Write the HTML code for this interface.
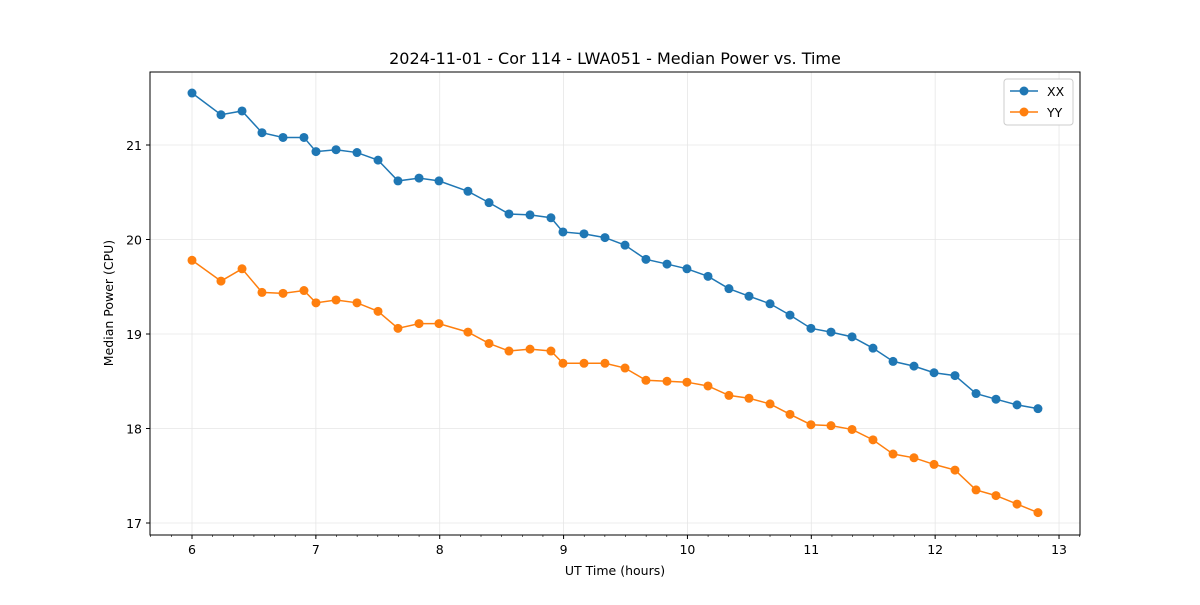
<!DOCTYPE html>
<html><head><meta charset="utf-8"><style>
body{margin:0;background:#fff;}
svg{font-family:"DejaVu Sans","Liberation Sans",sans-serif;}
</style></head><body>
<svg id="chart" width="1200" height="600" xmlns="http://www.w3.org/2000/svg"></svg>
<script>
const hours=[6.00,6.234,6.404,6.565,6.735,6.904,7.001,7.163,7.332,7.502,7.663,7.833,7.994,8.228,8.398,8.559,8.729,8.898,8.995,9.165,9.334,9.496,9.665,9.835,9.996,10.166,10.335,10.497,10.667,10.828,10.997,11.159,11.329,11.498,11.660,11.829,11.991,12.160,12.330,12.491,12.661,12.830];
const xxValues=[21.55,21.32,21.36,21.13,21.08,21.08,20.93,20.95,20.92,20.84,20.62,20.65,20.62,20.51,20.39,20.27,20.26,20.23,20.08,20.06,20.02,19.94,19.79,19.74,19.69,19.61,19.48,19.40,19.32,19.20,19.06,19.02,18.97,18.85,18.71,18.66,18.59,18.56,18.37,18.31,18.25,18.21];
const yyValues=[19.78,19.56,19.69,19.44,19.43,19.46,19.33,19.36,19.33,19.24,19.06,19.11,19.11,19.02,18.90,18.82,18.84,18.82,18.69,18.69,18.69,18.64,18.51,18.50,18.49,18.45,18.35,18.32,18.26,18.15,18.04,18.03,17.99,17.88,17.73,17.69,17.62,17.56,17.35,17.29,17.20,17.11];
const xTicks=[6,7,8,9,10,11,12,13];
const yTicks=[17,18,19,20,21];
const L=150,R=1080,T=72,B=535;
const sx=v=>192+(v-6)*123.86;
const sy=v=>145+(21-v)*94.5;
const svg=document.getElementById('chart');
const NS='http://www.w3.org/2000/svg';
function mk(tag,attrs,parent){const e=document.createElementNS(NS,tag);for(const k in attrs)e.setAttribute(k,attrs[k]);(parent||svg).appendChild(e);return e;}
function txt(s,attrs){const e=mk('text',attrs);e.textContent=s;return e;}
xTicks.forEach(t=>{const g=mk('line',{x1:sx(t),x2:sx(t),y1:T,y2:B,stroke:'#e6e6e6','stroke-width':0.8});

});
yTicks.forEach(t=>{const g=mk('line',{x1:L,x2:R,y1:sy(t),y2:sy(t),stroke:'#e6e6e6','stroke-width':0.8});

});
const fr=mk('rect',{x:L,y:T,width:R-L,height:B-T,fill:'none',stroke:'#000','stroke-width':1});


for(let v=5+4/6;v<13.2;v+=1/6){const x=sx(v);if(x<L||x>R)continue;mk('line',{x1:x,x2:x,y1:B,y2:B+2,stroke:'#000','stroke-width':0.6});}
xTicks.forEach(t=>{mk('line',{x1:sx(t),x2:sx(t),y1:B,y2:B+4,stroke:'#000'});
const e=txt(String(t),{x:sx(t),y:B+19,'font-size':12.5,'text-anchor':'middle'});

});
yTicks.forEach(t=>{mk('line',{x1:L-4,x2:L,y1:sy(t),y2:sy(t),stroke:'#000'});
const e=txt(String(t),{x:L-8,y:sy(t)+5,'font-size':12.5,'text-anchor':'end'});

});
function series(vals,color,name){const g=mk('g',{});


mk('polyline',{points:vals.map((v,i)=>sx(hours[i])+','+sy(v)).join(' '),fill:'none',stroke:color,'stroke-width':1.5},g);
vals.forEach((v,i)=>{const c=mk('circle',{cx:sx(hours[i]),cy:sy(v),r:4.5,fill:color},g);

});}
series(xxValues,'#1f77b4','series-xx');
series(yyValues,'#ff7f0e','series-yy');
let e=txt('2024-11-01 - Cor 114 - LWA051 - Median Power vs. Time',{x:615,y:64,'font-size':16,'text-anchor':'middle'});


e=txt('UT Time (hours)',{x:615,y:575,'font-size':12.5,'text-anchor':'middle'});


e=txt('Median Power (CPU)',{x:113,y:303,'font-size':12.5,'text-anchor':'middle',transform:'rotate(-90 113 303)'});


const lg=mk('g',{});


mk('rect',{x:1004,y:79,width:69,height:46,rx:3,fill:'#fff',stroke:'#ccc'},lg);
[['XX','#1f77b4',91],['YY','#ff7f0e',112]].forEach(([n,c,y])=>{
mk('line',{x1:1010,x2:1038,y1:y,y2:y,stroke:c,'stroke-width':1.5},lg);
mk('circle',{cx:1024,cy:y,r:4.5,fill:c},lg);
const t=mk('text',{x:1047,y:y+5,'font-size':12.5},lg);t.textContent=n;

});
</script>
</body></html>
